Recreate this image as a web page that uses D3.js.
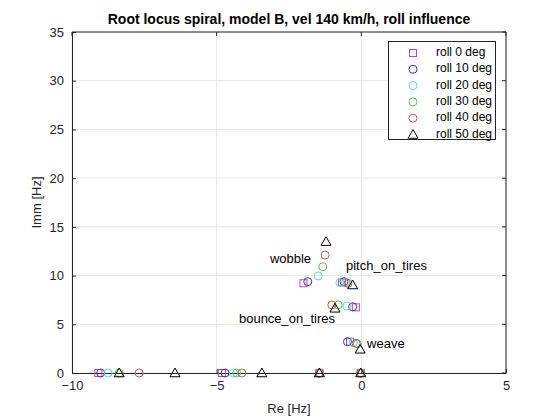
<!DOCTYPE html>
<html><head><meta charset="utf-8">
<script src="https://cdn.jsdelivr.net/npm/d3@7"></script>
<style>body{margin:0;background:#fff;} text{font-family:"Liberation Sans",Arial,sans-serif;}</style>
</head><body><div id="chart"></div>
<script>
const title = "Root locus spiral, model B, vel 140 km/h, roll influence";
const xTicks = [-10, -5, 0, 5];
const yTicks = [0, 5, 10, 15, 20, 25, 30, 35];
const seriesNames = ["roll 0 deg", "roll 10 deg", "roll 20 deg", "roll 30 deg", "roll 40 deg", "roll 50 deg"];
const seriesColors = ["#c040c0", "#3434c0", "#50dede", "#50c850", "#c85858", "#000000"];
const seriesMarkers = ["square", "circle", "circle", "circle", "circle", "triangle"];
const re0 = [-2.00, -0.67, -0.19, -0.39, -9.09, -4.82, -1.45, -0.02];
const im0 = [9.21, 9.30, 6.74, 3.21, 0, 0, 0, 0];
const re10 = [-1.85, -0.60, -0.30, -0.48, -9.01, -4.71, -1.45, -0.02];
const im10 = [9.37, 9.37, 6.80, 3.21, 0, 0, 0, 0];
const re20 = [-1.49, -0.74, -0.50, -0.28, -8.75, -4.42, -1.45, -0.02];
const im20 = [9.96, 9.27, 6.88, 3.11, 0, 0, 0, 0];
const re30 = [-1.33, -0.54, -0.80, -0.14, -8.37, -4.31, -1.45, -0.02];
const im30 = [10.91, 9.30, 6.98, 2.98, 0, 0, 0, 0];
const re40 = [-1.25, -0.46, -1.02, -0.18, -7.68, -4.13, -1.45, -0.02];
const im40 = [12.11, 9.20, 6.98, 3.05, 0, 0, 0, 0];
const re50 = [-1.22, -0.30, -0.91, -0.04, -8.37, -6.44, -3.44, -1.45, -0.02];
const im50 = [13.48, 9.03, 6.64, 2.43, 0, 0, 0, 0, 0];
const labelTexts = ["wobble", "pitch_on_tires", "bounce_on_tires", "weave"];
const labelRe = [-3.16, -0.53, -4.23, 0.20];
const labelIm = [11.6, 10.9, 5.44, 2.87];

const reAll = [re0, re10, re20, re30, re40, re50];
const imAll = [im0, im10, im20, im30, im40, im50];

const W = 560, H = 420;
const m = {left: 72, right: 54, top: 32, bottom: 47};
const svg = d3.select("#chart").append("svg").attr("width", W).attr("height", H);
const x = d3.scaleLinear().domain([-10, 5]).range([m.left, W - m.right]);
const y = d3.scaleLinear().domain([0, 35]).range([H - m.bottom, m.top]);
const axisColor = "#262626";

// grid
svg.append("g").selectAll("line.gx").data(xTicks).join("line")
  .attr("x1", d => x(d)).attr("x2", d => x(d)).attr("y1", y(0)).attr("y2", y(35))
  .attr("stroke", "#e6e6e6").attr("stroke-width", 1);
svg.append("g").selectAll("line.gy").data(yTicks).join("line")
  .attr("y1", d => y(d)).attr("y2", d => y(d)).attr("x1", x(-10)).attr("x2", x(5))
  .attr("stroke", "#e6e6e6").attr("stroke-width", 1);

// axes
const xAxis = d3.axisBottom(x).tickValues(xTicks).tickSizeInner(-4).tickSizeOuter(0).tickPadding(8);
const yAxis = d3.axisLeft(y).tickValues(yTicks).tickSizeInner(-4).tickSizeOuter(0).tickPadding(8);
const gx = svg.append("g").attr("transform", `translate(0,${y(0)})`).call(xAxis);
const gy = svg.append("g").attr("transform", `translate(${x(-10)},0)`).call(yAxis);
[gx, gy].forEach(g => {
  g.select(".domain").attr("stroke", axisColor);
  g.selectAll(".tick line").attr("stroke", axisColor);
  g.selectAll(".tick text").attr("fill", axisColor).style("font-size", "13px")
    .style("font-family", "'Liberation Sans', Arial, sans-serif");
});
// box top & right
svg.append("line").attr("x1", x(-10)).attr("x2", x(5)).attr("y1", y(35)).attr("y2", y(35)).attr("stroke", axisColor);
svg.append("line").attr("x1", x(5)).attr("x2", x(5)).attr("y1", y(35)).attr("y2", y(0)).attr("stroke", axisColor);
// top & right ticks
svg.append("g").selectAll("line").data(xTicks).join("line")
  .attr("x1", d => x(d)).attr("x2", d => x(d)).attr("y1", y(35)).attr("y2", y(35) + 4).attr("stroke", axisColor);
svg.append("g").selectAll("line").data(yTicks).join("line")
  .attr("y1", d => y(d)).attr("y2", d => y(d)).attr("x1", x(5)).attr("x2", x(5) - 4).attr("stroke", axisColor);

// titles
svg.append("text").attr("x", (x(-10) + x(5)) / 2).attr("y", 24).attr("text-anchor", "middle")
  .style("font-size", "14px").style("font-weight", "bold").attr("fill", "#000").text(title);
svg.append("text").attr("x", (x(-10) + x(5)) / 2).attr("y", 413).attr("text-anchor", "middle")
  .style("font-size", "13px").attr("fill", axisColor).text("Re [Hz]");
svg.append("text").attr("transform", `translate(41,${(y(0) + y(35)) / 2}) rotate(-90)`).attr("text-anchor", "middle")
  .style("font-size", "13px").attr("fill", axisColor).text("Imm [Hz]");

function drawMarker(g, type, color, cx, cy) {
  if (type === "square") {
    g.append("rect").attr("x", cx - 3.5).attr("y", cy - 3.5).attr("width", 7).attr("height", 7)
      .attr("fill", "none").attr("stroke", color).attr("stroke-width", 1);
  } else if (type === "circle") {
    g.append("circle").attr("cx", cx).attr("cy", cy).attr("r", 4)
      .attr("fill", "none").attr("stroke", color).attr("stroke-width", 1);
  } else {
    const s = 5;
    g.append("path").attr("d", `M${cx},${cy - s}L${cx + s},${cy + s * 0.75}L${cx - s},${cy + s * 0.75}Z`)
      .attr("fill", "none").attr("stroke", color).attr("stroke-width", 1);
  }
}

const pts = svg.append("g");
seriesNames.forEach((n, i) => {
  reAll[i].forEach((r, j) => drawMarker(pts, seriesMarkers[i], seriesColors[i], x(r), y(imAll[i][j])));
});

// annotations
svg.append("g").selectAll("text").data(labelTexts).join("text")
  .attr("x", (d, i) => x(labelRe[i])).attr("y", (d, i) => y(labelIm[i]))
  .attr("dominant-baseline", "middle").style("font-size", "13px").attr("fill", "#000").text(d => d);

// legend
const lg = svg.append("g");
lg.append("rect").attr("x", 388.5).attr("y", 41.5).attr("width", 107).attr("height", 98)
  .attr("fill", "#fff").attr("stroke", axisColor).attr("stroke-width", 1);
seriesNames.forEach((n, i) => {
  const ly = 53 + i * 16.3;
  drawMarker(lg, seriesMarkers[i], seriesColors[i], 413, ly);
  lg.append("text").attr("x", 436).attr("y", ly).attr("dominant-baseline", "middle")
    .style("font-size", "12px").attr("fill", "#000").text(n);
});
</script></body></html>
